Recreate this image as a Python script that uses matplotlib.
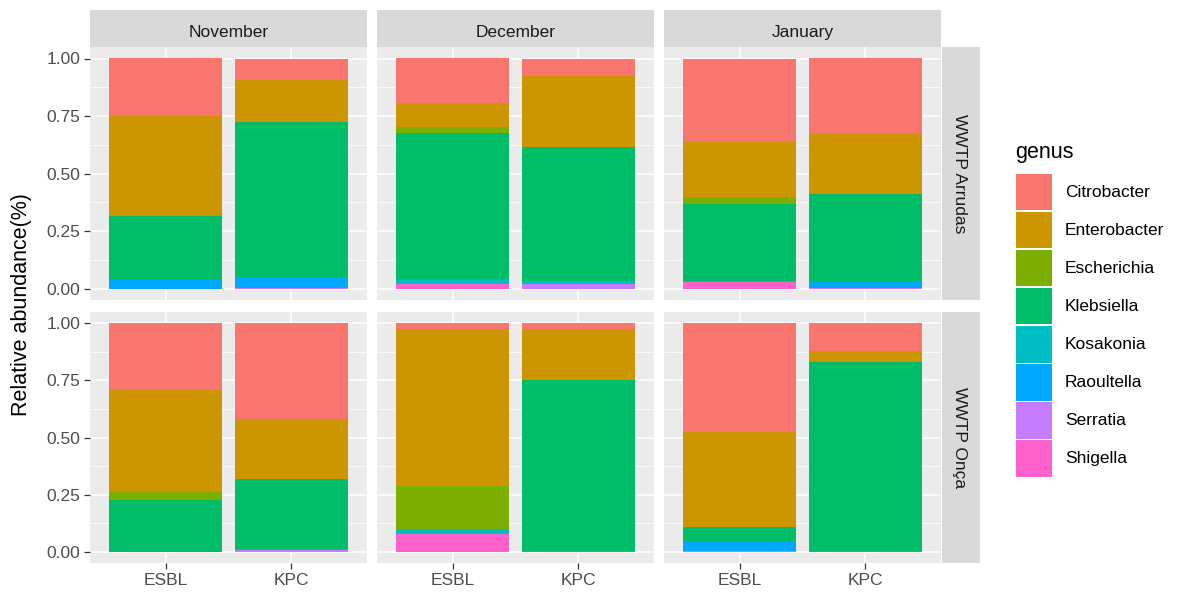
import matplotlib
matplotlib.use("Agg")
import matplotlib.pyplot as plt
from matplotlib.patches import Rectangle
import numpy as np

plt.rcParams['font.family'] = ['Liberation Sans', 'DejaVu Sans']

months = ["November", "December", "January"]
plants = ["WWTP Arrudas", "WWTP Onça"]
groups = ["ESBL", "KPC"]
genera = ["Citrobacter", "Enterobacter", "Escherichia", "Klebsiella",
          "Kosakonia", "Raoultella", "Serratia", "Shigella"]
colors = ["#F8766D", "#CD9600", "#7CAE00", "#00BE67",
          "#00BFC4", "#00A9FF", "#C77CFF", "#FF61CC"]

# order of each list: Arrudas Nov ESBL, Nov KPC, Dec ESBL, Dec KPC, Jan ESBL, Jan KPC,
# then the same six for Onça
citrobacter  = [0.250, 0.095, 0.192, 0.077, 0.365, 0.330,  0.294, 0.421, 0.026, 0.026, 0.478, 0.123]
enterobacter = [0.435, 0.179, 0.104, 0.306, 0.236, 0.258,  0.443, 0.263, 0.688, 0.220, 0.415, 0.044]
escherichia  = [0.000, 0.000, 0.027, 0.000, 0.031, 0.000,  0.039, 0.000, 0.187, 0.000, 0.000, 0.000]
klebsiella   = [0.280, 0.674, 0.642, 0.584, 0.336, 0.382,  0.224, 0.306, 0.000, 0.750, 0.066, 0.829]
kosakonia    = [0.000, 0.000, 0.015, 0.013, 0.004, 0.000,  0.000, 0.000, 0.021, 0.004, 0.000, 0.004]
raoultella   = [0.035, 0.048, 0.000, 0.000, 0.000, 0.026,  0.000, 0.005, 0.000, 0.000, 0.037, 0.000]
serratia     = [0.000, 0.004, 0.000, 0.020, 0.000, 0.004,  0.000, 0.005, 0.000, 0.000, 0.004, 0.000]
shigella     = [0.000, 0.000, 0.020, 0.000, 0.028, 0.000,  0.000, 0.000, 0.078, 0.000, 0.000, 0.000]

values = np.array([citrobacter, enterobacter, escherichia, klebsiella,
                   kosakonia, raoultella, serratia, shigella])

W, H = 1187, 596
fig = plt.figure(figsize=(W / 100, H / 100), dpi=100)

def px_axes(x0, y0, x1, y1):
    return fig.add_axes([x0 / W, 1 - y1 / H, (x1 - x0) / W, (y1 - y0) / H])

def strip(x0, y0, x1, y1, label, rot):
    sax = px_axes(x0, y0, x1, y1)
    sax.set_facecolor("#D9D9D9")
    sax.set_xticks([]); sax.set_yticks([])
    for s in sax.spines.values():
        s.set_visible(False)
    if rot == 0:
        sax.text(0.5, 0.42, label, ha="center", va="center_baseline",
                 fontsize=12.5, color="#1A1A1A", transform=sax.transAxes)
    else:
        sax.text(0.45, 0.5, label, ha="center", va="center", rotation=rot,
                 fontsize=12.5, color="#1A1A1A", transform=sax.transAxes)

col_x = [(90, 367), (377, 654), (664, 941)]
row_y = [(47, 300), (312, 563)]
grey_text = "#4D4D4D"

for r, plant in enumerate(plants):
    for c, month in enumerate(months):
        ax = px_axes(col_x[c][0], row_y[r][0], col_x[c][1], row_y[r][1])
        ax.set_facecolor("#EBEBEB")
        ax.set_xlim(0.4, 2.6)
        ax.set_ylim(-0.05, 1.05)
        for s in ax.spines.values():
            s.set_visible(False)
        ax.set_yticks([0, 0.25, 0.5, 0.75, 1.0])
        ax.set_yticks([0.125, 0.375, 0.625, 0.875], minor=True)
        ax.set_xticks([1, 2])
        ax.grid(True, which="major", color="white", lw=1.1)
        ax.grid(True, which="minor", axis="y", color="white", lw=0.55)
        ax.set_axisbelow(True)
        ax.tick_params(which="minor", length=0)
        ax.tick_params(which="major", length=4, color="#333333", width=0.9,
                       labelsize=12.5, labelcolor=grey_text, pad=3)

        for g, grp in enumerate(groups):
            idx = r * 6 + c * 2 + g
            # first genus sits on top, so stack from the last one upwards
            bottom = 0.0
            for k in range(len(genera) - 1, -1, -1):
                v = values[k, idx]
                if v > 0:
                    ax.bar(g + 1, v, width=0.9, bottom=bottom, color=colors[k], lw=0)
                bottom += v

        if c == 0:
            ax.set_yticklabels(["0.00", "0.25", "0.50", "0.75", "1.00"])
        else:
            ax.tick_params(axis="y", which="both", length=0, labelleft=False)
        if r == 1:
            ax.set_xticklabels(groups)
        else:
            ax.tick_params(axis="x", length=0, labelbottom=False)

        if r == 0:
            strip(col_x[c][0], 10, col_x[c][1], 46.5, month, 0)
        if c == 2:
            strip(942, row_y[r][0], 980, row_y[r][1], plant, -90)

fig.text(22 / W, 1 - 305 / H, "Relative abundance(%)", rotation=90,
         ha="center", va="center", fontsize=15.5, color="black")

# legend drawn by hand
fig.text(1015 / W, 1 - 152 / H, "genus", ha="left", va="center",
         fontsize=15.5, color="black")
key_top = 173
key_h = 38.1
for k, name in enumerate(genera):
    y0 = key_top + k * key_h
    fig.patches.append(Rectangle((1016 / W, 1 - (y0 + key_h - 1) / H),
                                 36 / W, (key_h - 1.5) / H,
                                 transform=fig.transFigure,
                                 facecolor=colors[k], edgecolor="none"))
    fig.text(1065 / W, 1 - (y0 + key_h / 2) / H, name, ha="left", va="center",
             fontsize=12.5, color="black")

fig.savefig("out.png", dpi=100, facecolor="white")
